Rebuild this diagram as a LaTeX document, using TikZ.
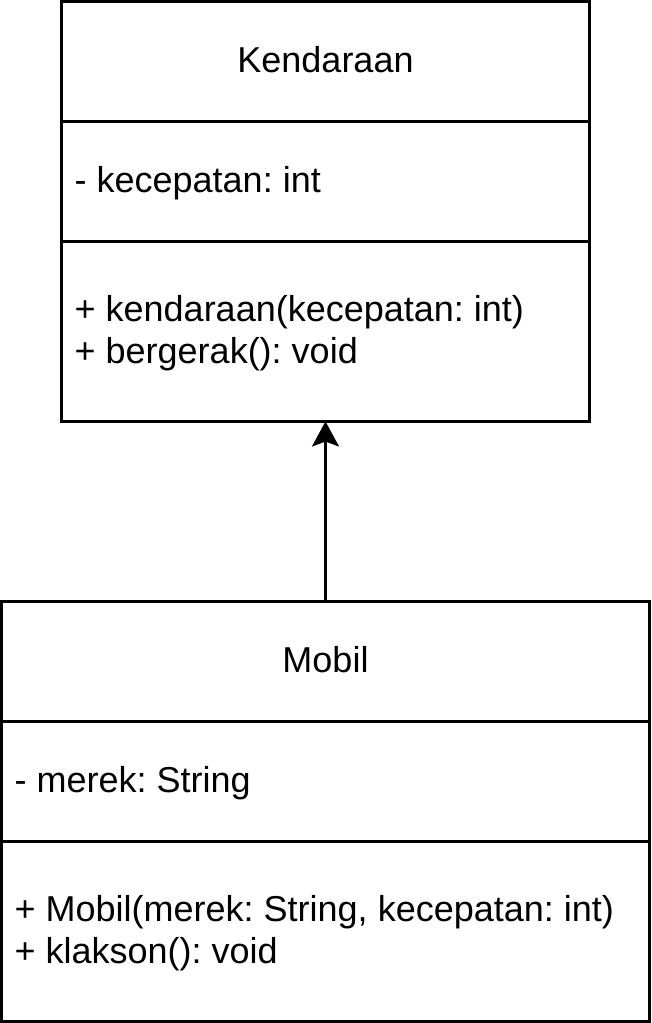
\documentclass[tikz,border=0pt]{standalone}
\usepackage{fontspec}
\setmainfont{Liberation Sans}
\usetikzlibrary{arrows.meta}
\begin{document}
\begin{tikzpicture}[x=1pt,y=-1pt,
 umlbox/.style={draw=black, line width=3pt, rectangle, inner sep=0pt, outer sep=0pt, fill=white},
 lbl/.style={anchor=base west, inner sep=0pt, font=\fontsize{36}{42}\selectfont\frenchspacing},
 ttl/.style={anchor=base, inner sep=0pt, font=\fontsize{36}{42}\selectfont\frenchspacing},
 divider/.style={line width=3pt},
 inherit/.style={line width=3pt, -{Stealth[length=25pt,width=27pt,inset=5pt]}}]
\useasboundingbox (0,0) rectangle (651,1023);
% Kendaraan class
\node[umlbox, minimum width=528pt, minimum height=420pt] (kend) at (325.5,211.5) {};
\draw[divider] (61.5,121.5) -- (589.5,121.5);
\draw[divider] (61.5,241.5) -- (589.5,241.5);
\node[ttl] (kname) at (325.5,72) {Kendaraan};
\node[lbl] (kattr) at (74.5,192) {- kecepatan: int};
\node[lbl] (kop1) at (74.5,321) {+ kendaraan(kecepatan: int)};
\node[lbl] (kop2) at (74.5,363) {+ bergerak(): void};
% Mobil class
\node[umlbox, minimum width=648pt, minimum height=420pt] (mobil) at (325.5,811.5) {};
\draw[divider] (1.5,721.5) -- (649.5,721.5);
\draw[divider] (1.5,841.5) -- (649.5,841.5);
\node[ttl] (mname) at (325.5,672) {Mobil};
\node[lbl] (mattr) at (14.5,792) {- merek: String};
\node[lbl] (mop1) at (14.5,921) {+ Mobil(merek: String, kecepatan: int)};
\node[lbl] (mop2) at (14.5,963) {+ klakson(): void};
% inheritance
\draw[inherit] (mobil.north) -- (kend.south);
\end{tikzpicture}
\end{document}
